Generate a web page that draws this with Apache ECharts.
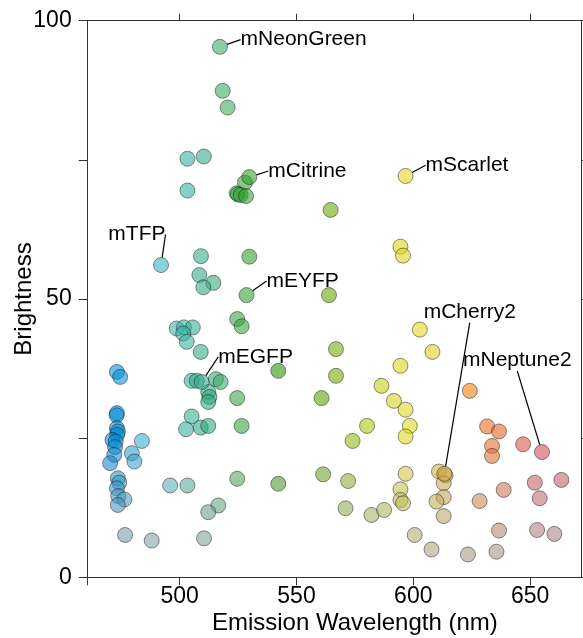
<!DOCTYPE html>
<html><head><meta charset="utf-8">
<script src="https://cdn.jsdelivr.net/npm/echarts@6/dist/echarts.min.js"></script>
<style>html,body{margin:0;padding:0;background:#fff}#c{width:583px;height:638px}</style>
</head><body><div id="c"></div>
<script>
// ---- data ----
const wavelength = [
 473.1,474.5,473.1,473.0,473.1,473.5,473.2,471.2,472.6,472.3,472.0,470.2,483.8,479.5,480.6,
 473.5,474.1,473.1,473.7,476.3,473.5,476.6,488.0,
 503.3,510.3,503.3,518.4,520.5,527.9,524.4,524.9,526.1,528.4,
 509.1,529.8,508.4,514.4,510.1,524.6,526.5,498.7,501.8,505.6,501.5,503.0,509.0,
 505.1,507.3,515.5,517.5,512.2,512.7,512.2,542.2,524.6,505.1,502.7,509.0,512.2,526.5,
 495.9,503.3,524.6,542.2,516.5,512.2,510.4,
 564.6,594.5,595.6,563.9,602.8,608.2,566.9,566.9,594.5,586.4,560.7,591.7,596.7,580.2,598.5,596.7,574.0,
 561.4,572.1,596.7,594.5,594.5,595.6,571.0,582.1,587.5,600.6,607.8,
 624.2,631.6,636.7,633.7,633.7,647.0,611.0,613.8,613.0,613.0,609.9,613.0,
 628.4,638.7,652.0,654.1,663.4,623.4,635.6,636.7,653.0,660.4
];
const brightness = [
 36.9,36.0,29.5,29.1,26.8,26.2,25.6,24.7,24.4,23.4,22.0,20.5,24.5,22.3,20.8,
 17.8,17.0,16.0,14.6,14.0,13.0,7.6,6.6,
 75.2,75.6,69.5,87.4,84.4,70.9,69.0,68.8,68.7,68.5,
 57.7,57.6,54.3,52.9,52.1,46.4,45.1,44.7,44.9,44.9,43.8,42.3,40.5,
 35.3,35.3,35.6,35.1,33.3,32.4,31.5,37.1,32.2,28.9,26.6,26.9,27.2,27.2,
 16.5,16.5,17.7,16.8,12.9,11.7,7.0,
 66.0,59.4,57.8,50.7,44.5,40.5,41.0,36.2,38.0,34.4,32.2,31.7,30.1,27.2,27.2,25.3,24.5,
 18.5,17.3,18.6,15.8,13.9,13.3,12.4,11.2,12.1,7.6,5.0,
 33.5,27.1,26.2,23.6,21.8,23.9,19.0,18.3,16.9,14.4,13.6,11.0,
 13.7,15.7,17.0,14.2,17.5,4.1,4.6,8.4,8.5,7.8
];
const labelNames = ['mNeonGreen','mCitrine','mScarlet','mTFP','mEYFP','mEGFP','mCherry2','mNeptune2'];
const labelWavelength = [517.2,529.8,596.7,492.0,528.6,509.4,613.3,655.1];
const labelBrightness = [95.3,71.9,72.1,56.1,50.7,35.1,18.6,22.5];
const xTickValues = [500,550,600,650];
const yLabelValues = [0,50,100];

// ---- styles ----
const FONT = 'Liberation Sans, Arial, Helvetica, sans-serif';
const labelOffsets = {
  mNeonGreen:[20.7,-7.2], mCitrine:[19,-6.1], mScarlet:[20,-10.7], mTFP:[-52.7,-30.5],
  mEYFP:[20,-14.1], mEGFP:[16.6,-25], mCherry2:[-20.7,-161.7], mNeptune2:[-79,-91.6]
};
// apparent (over white) colour of a single marker at full saturation
const hueStops = [
 [470,'#62b6ea'],[485,'#86d2e6'],[500,'#8ad3cd'],[512,'#84ccb4'],[520,'#8ecea0'],
 [530,'#88c682'],[545,'#80be60'],[565,'#a8cc6a'],[580,'#d0de74'],[597,'#eee87a'],
 [606,'#f4e87a'],[612,'#eed282'],[624,'#f8b66c'],[634,'#f2a67c'],[648,'#ee9490'],
 [656,'#ea8e98'],[666,'#e0949e']
];
const GREY = '#c4c6c4';
const ALPHA = 0.58;
const SAT_FULL = 26;

function hex(c){return [1,3,5].map(i=>parseInt(c.slice(i,i+2),16));}
function pointColor(nm, b){
  let i=0; while(i<hueStops.length-2 && nm>hueStops[i+1][0]) i++;
  const w0=hueStops[i][0], w1=hueStops[i+1][0];
  let t=(nm-w0)/(w1-w0); t=Math.max(0,Math.min(1,t));
  const c0=hex(hueStops[i][1]), c1=hex(hueStops[i+1][1]), g=hex(GREY);
  const s=Math.min(1,b/SAT_FULL);
  const rgb=c0.map((v,k)=>{
    const hv=v+(c1[k]-v)*t;
    const app=g[k]+(hv-g[k])*s;
    return Math.max(0,Math.min(255,Math.round((app-(1-ALPHA)*255)/ALPHA)));
  });
  return 'rgba('+rgb.join(',')+','+ALPHA+')';
}

const axisLineStyle = {color:'#333', width:1};
const itemStyle = {
  color: p => pointColor(p.value[0], p.value[1]),
  opacity: 1,
  borderColor:'rgba(30,30,30,0.5)', borderWidth:1
};

const chart = echarts.init(document.getElementById('c'), null, {renderer:'canvas'});
chart.setOption({
  animation:false,
  backgroundColor:'#fff',
  textStyle:{fontFamily:FONT},
  grid:{left:87.7, right:2, top:20.7, bottom:60.7, containLabel:false, outerBoundsMode:'none'},
  xAxis:[{
    type:'value', min:460.6, max:671.8, position:'bottom',
    name:'Emission Wavelength (nm)', nameLocation:'middle', nameGap:34, nameMoveOverlap:false,
    nameTextStyle:{fontSize:24, color:'#000', fontFamily:FONT, padding:[0,0,0,41]},
    axisLine:{show:true, onZero:false, lineStyle:axisLineStyle},
    axisTick:{show:true, inside:false, length:8, customValues:[460.6].concat(xTickValues), lineStyle:axisLineStyle},
    axisLabel:{show:true, customValues:xTickValues, fontSize:23, color:'#000', margin:8, fontFamily:FONT},
    splitLine:{show:false}
  },{
    type:'value', min:460.6, max:671.8, position:'top',
    axisLine:{show:true, onZero:false, lineStyle:axisLineStyle},
    axisTick:{show:true, inside:false, length:7, customValues:xTickValues, lineStyle:axisLineStyle},
    axisLabel:{show:false}, splitLine:{show:false}
  }],
  yAxis:[{
    type:'value', min:0, max:100, interval:25, position:'left',
    name:'Brightness', nameLocation:'middle', nameGap:51, nameRotate:90, nameMoveOverlap:false,
    nameTextStyle:{fontSize:24, color:'#000', fontFamily:FONT},
    axisLine:{show:true, onZero:false, lineStyle:axisLineStyle},
    axisTick:{show:true, inside:false, length:9, lineStyle:axisLineStyle},
    axisLabel:{show:true, customValues:yLabelValues, fontSize:23, color:'#000', margin:16, fontFamily:FONT, padding:[0,0,4,0]},
    splitLine:{show:false}
  },{
    type:'value', min:0, max:100, interval:25, position:'right',
    axisLine:{show:true, onZero:false, lineStyle:axisLineStyle},
    axisTick:{show:true, inside:false, length:8, lineStyle:axisLineStyle},
    axisLabel:{show:false}, splitLine:{show:false}
  }],
  series:[{
    type:'scatter', xAxisIndex:0, yAxisIndex:0, symbolSize:15,
    data: wavelength.map((w,i)=>[w, brightness[i]]),
    itemStyle: itemStyle, emphasis:{disabled:true}
  },{
    type:'scatter', xAxisIndex:0, yAxisIndex:0, symbolSize:15, z:3,
    data: labelNames.map((n,i)=>({name:n, value:[labelWavelength[i], labelBrightness[i]]})),
    itemStyle: itemStyle, emphasis:{disabled:true},
    label:{show:true, position:'inside', align:'left', verticalAlign:'middle', formatter:'{b}',
      fontSize:21, color:'#000', fontFamily:FONT},
    labelLayout: p => { const o = labelOffsets[labelNames[p.dataIndex]]; return {dx:o[0], dy:o[1]}; },
    labelLine:{show:true, lineStyle:{color:'#000', width:1.2}}
  }]
});
</script></body></html>
